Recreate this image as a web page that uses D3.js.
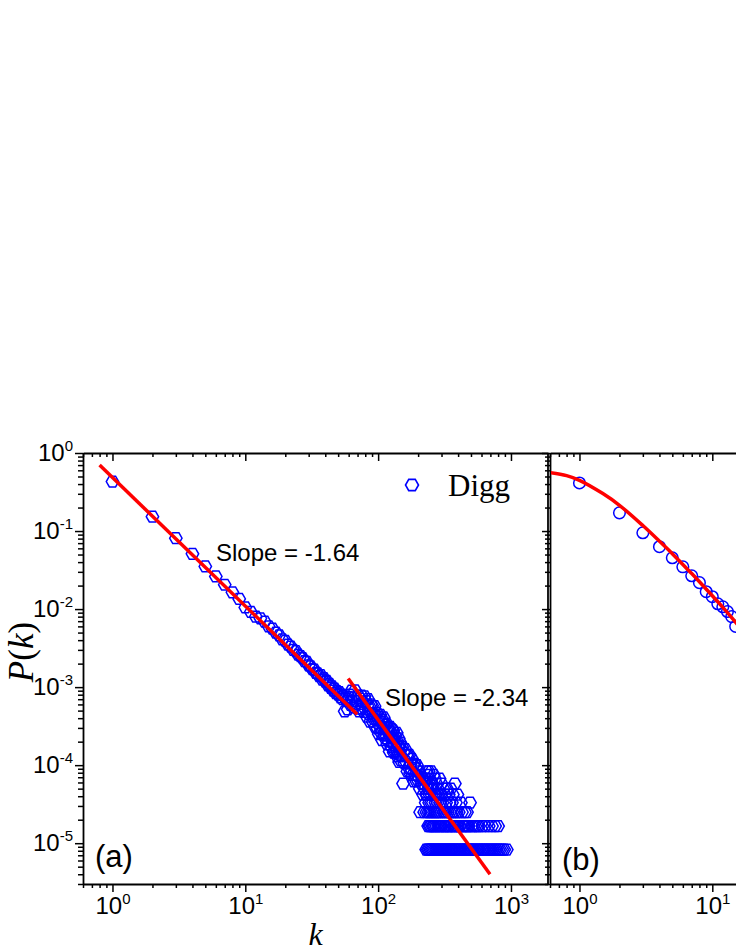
<!DOCTYPE html>
<html><head><meta charset="utf-8">
<script src="https://cdn.jsdelivr.net/npm/d3@7"></script>
<style>body{margin:0;background:#fff}svg{display:block}</style>
</head><body>
<svg id="c" width="736" height="952"></svg>
<script>
// ---------- DATA ----------
// Panel (a): Digg degree distribution, [k, P(k)]
const headPoints = [[1,0.43],[2,0.153],[3,0.081],[4,0.051],[5,0.0352],[6,0.0262],[7,0.0205],[8,0.0164],[9,0.0135],[10,0.0105],[11,0.0092],[12,0.0080]];
const bodyPoints = [[13,7.6e-3],[14,6.9e-3],[15,6.0e-3],[16,5.6e-3],[17,5.0e-3],[18,4.6e-3],[19,4.1e-3],[20,3.9e-3],[21,3.5e-3],[22,3.3e-3],[23,3.0e-3],[24,2.9e-3],[25,2.6e-3],[26,2.5e-3],[27,2.35e-3],[28,2.15e-3],[29,2.1e-3],[30,1.9e-3],[31,1.85e-3],[32,1.7e-3],[33,1.68e-3],[34,1.52e-3],[35,1.5e-3],[36,1.38e-3],[37,1.42e-3],[38,1.25e-3],[39,1.3e-3],[40,1.18e-3],[41,1.2e-3],[42,1.05e-3],[43,1.1e-3],[44,9.8e-4],[45,1.02e-3],[46,9.0e-4],[47,9.6e-4],[48,8.4e-4],[49,8.9e-4],[50,8.0e-4],[51,8.6e-4],[52,7.4e-4],[53,8.0e-4],[54,7.0e-4],[55,7.8e-4],[56,4.9e-4],[57,7.2e-4],[58,6.6e-4],[59,5.2e-4],[60,7.5e-4]];
const midPoints = [[61,8.0e-4],[62,5.9e-4],[63,9.0e-4],[64,6.6e-4],[65,5.5e-4],[66,7.4e-4],[67,9.1e-4],[68,6.0e-4],[69,6.65e-4],[70,5.3e-4],[71,7.8e-4],[72,4.9e-4],[73,7.1e-4],[74,6.1e-4],[75,7.8e-4],[76,5.3e-4],[77,6.4e-4],[78,4.8e-4],[79,7.6e-4],[80,5.2e-4],[81,6.6e-4],[82,4.2e-4],[83,5.8e-4],[84,7.0e-4],[85,4.5e-4],[86,5.7e-4],[87,3.6e-4],[88,6.0e-4],[89,4.6e-4],[90,5.8e-4],[91,3.6e-4],[92,4.6e-4],[93,3.9e-4],[94,5.7e-4],[95,3.1e-4],[96,4.4e-4],[97,3.8e-4],[98,4.7e-4],[99,2.95e-4],[100,3.8e-4],[101,2.5e-4],[102,4.2e-4],[103,3.1e-4],[104,4.4e-4],[105,2.6e-4],[106,3.6e-4],[107,2.1e-4],[108,3.8e-4],[109,2.95e-4],[110,4.1e-4],[111,2.4e-4],[112,3.1e-4],[113,2.2e-4],[114,3.3e-4],[115,2.4e-4],[116,3.4e-4],[117,1.85e-4],[118,2.7e-4],[119,3.0e-4],[120,2.0e-4],[121,2.75e-4],[122,1.5e-4],[123,3.1e-4],[124,2.3e-4],[125,2.65e-4],[126,1.7e-4],[127,2.9e-4],[128,1.9e-4],[129,2.2e-4],[130,2.8e-4],[131,1.45e-4],[132,2.25e-4],[133,1.8e-4],[134,2.4e-4],[135,1.45e-4],[136,2.0e-4],[137,1.6e-4],[138,2.6e-4],[139,1.3e-4],[140,2.0e-4],[141,1.4e-4],[142,1.7e-4],[143,2.2e-4],[144,1.1e-4],[145,1.75e-4],[146,1.35e-4],[147,1.95e-4],[148,1.15e-4],[149,1.6e-4],[150,1.3e-4],[152,1.7e-4],[154,5.8e-5],[156,1.45e-4],[158,1.05e-4],[160,1.6e-4],[162,1.1e-4],[164,1.35e-4],[166,8.3e-5],[168,1.35e-4],[170,9.2e-5],[172,1.35e-4],[174,7.9e-5],[176,1.05e-4],[178,8.8e-5],[180,1.2e-4],[182,7.5e-5],[184,1.0e-4],[186,6.2e-5],[188,1.05e-4],[190,7.5e-5],[192,9.2e-5],[194,6.2e-5],[196,1.0e-4],[198,6.5e-5],[200,7.2e-5],[203,8.3e-5],[206,5.0e-5],[209,7.5e-5],[212,5.8e-5],[215,6.7e-5],[218,4.2e-5],[221,5.8e-5],[224,5.0e-5],[227,6.7e-5],[230,4.2e-5]];
// tail: quantised probability levels and the degrees found on each level
const tailLevels = [8.3e-5, 7.5e-5, 6.7e-5, 5.8e-5, 5.0e-5, 4.2e-5, 3.3e-5, 2.5e-5, 1.66e-5, 8.3e-6];
const tailK10 = [232,240,251];
const tailK9  = [236,262];
const tailK8  = [245,268,290];
const tailK7  = [234,255,275,300,378];
const tailK6  = [238,248,260,282,310,330,352];
const tailK5  = [233,243,252,265,272,285,295,318,340,365,395];
const tailK4  = [228,242,250,258,270,280,292,305,325,345,360,385,420,492];
const tailK3  = [207,222,231,239,246,254,263,271,279,288,298,312,322,335,348,362,375,390,405,428,450,467];
const tailK2  = [238,244,249,256,261,267,274,283,289,296,303,315,320,328,338,342,355,368,372,381,398,410,415,435,447,460,472,480,505,520,540,560,575,610,640,680,720,760,800];
const tailK1  = [230,236,241,247,253,259,266,273,278,286,293,301,308,316,324,332,341,350,358,366,376,386,396,408,418,430,442,455,465,478,490,500,515,530,548,565,580,598,615,632,650,670,690,712,735,758,780,805,830,860,890,930];
// fitted power laws (end points)
const fitLow  = [[0.8,0.70],[69.5,4.5e-4]];
const fitHigh = [[59.5,1.29e-3],[695,4.0e-6]];
const slopeLabels = ["Slope = -1.64", "Slope = -2.34"];
// Panel (b)
const degB  = [1,2,3,4,5,6,7,8,9,10,11,12,13,14,15];
const probB = [0.413,0.171,0.095,0.063,0.0454,0.0348,0.0267,0.0218,0.0167,0.0144,0.0117,0.0107,0.0093,0.0080,0.0060];
const fitCurveB = [[0.6,0.562],[0.8,0.513],[1,0.447],[1.5,0.302],[2,0.214],[3,0.1175],[4,0.0741],[5,0.0513],[6,0.0372],[7,0.0285],[8,0.0224],[10,0.0148],[12,0.0105],[15,0.00676],[18,0.00468],[20,0.0038]];
const xMajorTicks = [1,10,100,1000];
const yMajorTicks = [1,1e-1,1e-2,1e-3,1e-4,1e-5];
const xExps = {1:"0",10:"1",100:"2",1000:"3"};
const yExps = {1:"0",0.1:"-1",0.01:"-2",0.001:"-3",0.0001:"-4",0.00001:"-5"};

// ---------- LAYOUT ----------
const svg = d3.select("#c");
const yTop = 453, yBot = 884, W = 736;
const A = {l:83, r:548};
const B = {l:550, r:1015};
const xDom = [0.6, 1900], yDom = [3e-6, 1];
const xA = d3.scaleLog().domain(xDom).range([A.l, A.r]);
const xB = d3.scaleLog().domain(xDom).range([B.l, B.r]);
const y  = d3.scaleLog().domain(yDom).range([yBot, yTop]);

function minorTicks(dom){
  const out=[];
  for(let e=Math.floor(Math.log10(dom[0])); e<=Math.ceil(Math.log10(dom[1])); e++){
    for(let m=2;m<=9;m++){const v=m*Math.pow(10,e); if(v>=dom[0]&&v<=dom[1]) out.push(v);}
  }
  return out;
}
const xMinor = minorTicks(xDom), yMinor = minorTicks(yDom);
const FONT = "'Liberation Sans', Arial, sans-serif";
const SERIF = "'Liberation Serif', 'Times New Roman', serif";

function styleAxis(g){
  g.selectAll("path.domain").attr("stroke","#000").attr("stroke-width",1.8);
  g.selectAll(".tick line").attr("stroke","#000").attr("stroke-width",1.5);
}
function supLabels(g, exps){
  g.selectAll(".tick text").each(function(d){
    const t=d3.select(this); t.text("");
    t.attr("font-family",FONT).attr("font-size",24).attr("fill","#000");
    t.append("tspan").text("10");
    t.append("tspan").attr("font-size",15).attr("dy",-10).text(exps[d]);
  });
}

function panel(x, P, showYLabels){
  const gAx = svg.append("g");
  const vis = v => x(v) <= W - 20;
  gAx.append("g").attr("transform",`translate(0,${yBot})`)
    .call(d3.axisBottom(x).tickValues(xMinor).tickSize(4).tickFormat(""))
    .call(styleAxis).select("path.domain").remove();
  const bx = gAx.append("g").attr("transform",`translate(0,${yBot})`)
    .call(d3.axisBottom(x).tickValues(xMajorTicks.filter(vis)).tickSize(8).tickPadding(5).tickSizeOuter(0));
  styleAxis(bx); supLabels(bx, xExps);
  gAx.append("g").attr("transform",`translate(0,${yTop})`)
    .call(d3.axisBottom(x).tickValues(xMinor).tickSize(4).tickFormat("").tickSizeOuter(0))
    .call(styleAxis).select("path.domain").remove();
  gAx.append("g").attr("transform",`translate(0,${yTop})`)
    .call(d3.axisBottom(x).tickValues(xMajorTicks).tickSize(8).tickFormat("").tickSizeOuter(0))
    .call(styleAxis);
  gAx.append("g").attr("transform",`translate(${P.l},0)`)
    .call(d3.axisLeft(y).tickValues(yMinor).tickSize(5).tickFormat(""))
    .call(styleAxis).select("path.domain").remove();
  const ly = gAx.append("g").attr("transform",`translate(${P.l},0)`)
    .call(d3.axisLeft(y).tickValues(yMajorTicks).tickSize(8).tickPadding(2).tickSizeOuter(0));
  styleAxis(ly);
  if(showYLabels) supLabels(ly, yExps); else ly.selectAll(".tick text").remove();
  return gAx;
}

panel(xA, A, true);
svg.append("line").attr("x1",A.r).attr("x2",A.r).attr("y1",yTop).attr("y2",yBot).attr("stroke","#000").attr("stroke-width",1.8);
panel(xB, B, false);

const defs = svg.append("defs");
defs.append("clipPath").attr("id","clipA").append("rect").attr("x",A.l).attr("y",yTop).attr("width",A.r-A.l).attr("height",yBot-yTop);
defs.append("clipPath").attr("id","clipB").append("rect").attr("x",B.l+1).attr("y",yTop).attr("width",B.r-B.l).attr("height",yBot-yTop);

function hexPath(r){
  const pts=d3.range(6).map(i=>{const a=Math.PI/3*i; return [r*Math.cos(a), r*Math.sin(a)];});
  return "M"+pts.map(p=>p[0].toFixed(2)+","+p[1].toFixed(2)).join("L")+"Z";
}
const HEX = hexPath(6.2);

const tailRows = [tailK10,tailK9,tailK8,tailK7,tailK6,tailK5,tailK4,tailK3,tailK2,tailK1];
const allA = headPoints.concat(bodyPoints, midPoints);
tailRows.forEach((ks,i)=>ks.forEach(k=>allA.push([k, tailLevels[i]])));

const gA = svg.append("g").attr("clip-path","url(#clipA)");
gA.selectAll("path.hex").data(allA).join("path").attr("class","hex")
  .attr("d",HEX).attr("transform",d=>`translate(${xA(d[0])},${y(d[1])})`)
  .attr("fill","none").attr("stroke","#0000ff").attr("stroke-width",1.5);
const lineA = d3.line().x(d=>xA(d[0])).y(d=>y(d[1]));
[fitLow, fitHigh].forEach(f=>{
  gA.append("path").attr("d",lineA(f)).attr("fill","none").attr("stroke","#ff0000").attr("stroke-width",3.5);
});

const gB = svg.append("g").attr("clip-path","url(#clipB)");
gB.selectAll("circle").data(degB.map((k,i)=>[k,probB[i]])).join("circle")
  .attr("cx",d=>xB(d[0])).attr("cy",d=>y(d[1])).attr("r",5.8)
  .attr("fill","none").attr("stroke","#0000ff").attr("stroke-width",1.5);
const lineB = d3.line().x(d=>xB(d[0])).y(d=>y(d[1])).curve(d3.curveCatmullRom.alpha(0.5));
gB.append("path").attr("d",lineB(fitCurveB)).attr("fill","none").attr("stroke","#ff0000").attr("stroke-width",3.5);

svg.append("text").attr("x",216).attr("y",561).attr("font-family",FONT).attr("font-size",24).text(slopeLabels[0]);
svg.append("text").attr("x",385).attr("y",706).attr("font-family",FONT).attr("font-size",24).text(slopeLabels[1]);
svg.append("text").attr("x",95).attr("y",867).attr("font-family",FONT).attr("font-size",31).text("(a)");
svg.append("text").attr("x",562).attr("y",870).attr("font-family",FONT).attr("font-size",31).text("(b)");
svg.append("path").attr("d",hexPath(6.5)).attr("transform","translate(412,485)").attr("fill","none").attr("stroke","#0000ff").attr("stroke-width",1.6);
svg.append("text").attr("x",448).attr("y",496).attr("font-family",SERIF).attr("font-size",31).text("Digg");
svg.append("text").attr("x",xA(Math.sqrt(xDom[0]*xDom[1]))).attr("y",945).attr("text-anchor","middle")
  .attr("font-family",SERIF).attr("font-style","italic").attr("font-size",32).text("k");
const yl = svg.append("text").attr("transform","translate(33,652) rotate(-90)").attr("text-anchor","middle")
  .attr("font-family",SERIF).attr("font-size",35);
yl.append("tspan").attr("font-style","italic").text("P");
yl.append("tspan").text("(");
yl.append("tspan").attr("font-style","italic").text("k");
yl.append("tspan").text(")");
</script>
</body></html>
